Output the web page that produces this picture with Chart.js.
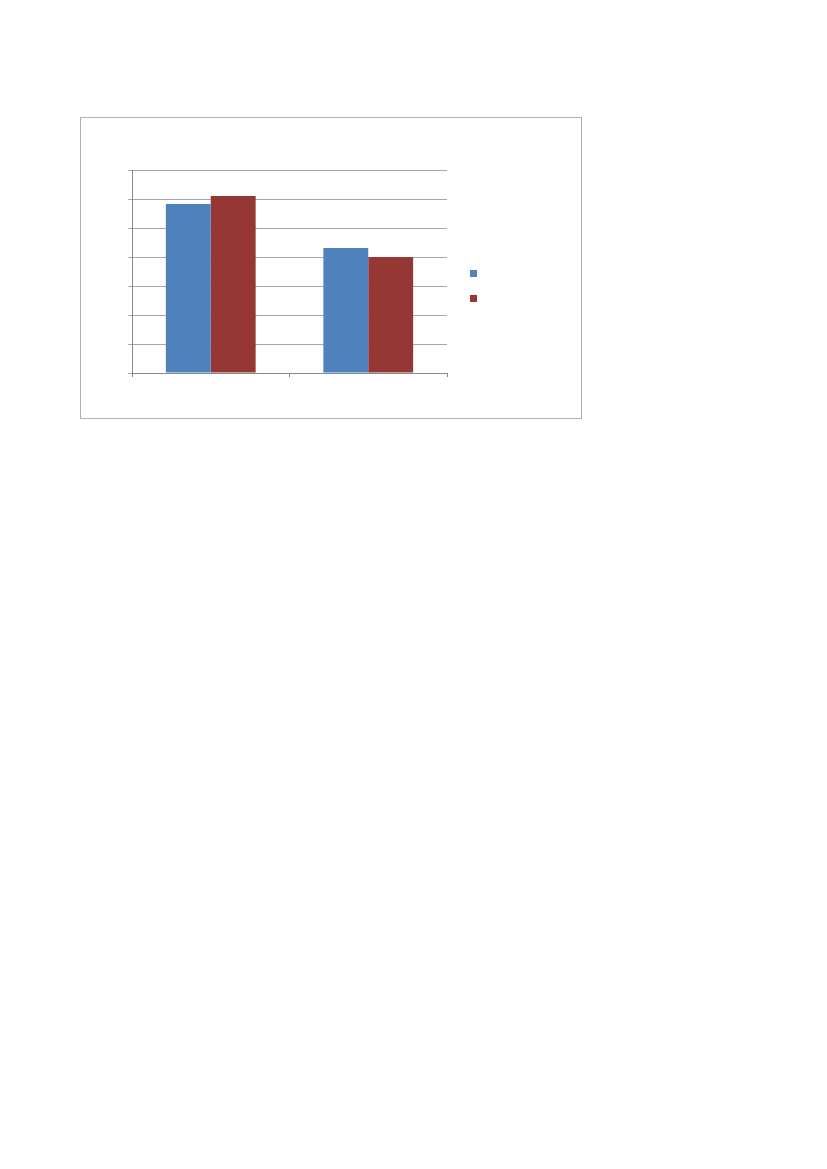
<!DOCTYPE html>
<html>
<head>
<meta charset="utf-8">
<script src="https://cdn.jsdelivr.net/npm/chart.js@4.4.1/dist/chart.umd.min.js"></script>
<style>
  body { margin: 0; background: #fff; }
  #box { position: absolute; left: 80px; top: 117px; width: 500px; height: 300px; border: 1px solid #b0b0b0; }
  #box canvas { position: absolute; left: 0; top: 0; }
  .key { position: absolute; width: 7px; height: 7px; }
</style>
</head>
<body>
<div id="box">
  <canvas id="myChart" width="500" height="300"></canvas>
  <div class="key" id="key0" style="left:389px; top:152px;"></div>
  <div class="key" id="key1" style="left:389px; top:177px;"></div>
</div>
<script>
// the picture shows no text at all, so names stay blank
var categories = ['', ''];
var seriesNames = ['', ''];
var series1 = [5.83, 4.31];
var series2 = [6.1, 4.0];
var seriesColors = ['#4f81bd', '#953735'];
var yMax = 7;

var ctx = document.getElementById('myChart').getContext('2d');

var myChart = new Chart(ctx, {
    type: 'bar',
    data: {
        labels: categories,
        datasets: [{
            label: seriesNames[0],
            data: series1,
            backgroundColor: seriesColors[0],
            borderWidth: 0
        }, {
            label: seriesNames[1],
            data: series2,
            backgroundColor: seriesColors[1],
            borderWidth: 0
        }]
    },
    options: {
        responsive: false,
        animation: false,
        layout: { padding: { left: 47, right: 134, top: 52, bottom: 41 } },
        plugins: {
            legend: { display: false },
            tooltip: { enabled: false }
        },
        datasets: {
            bar: { categoryPercentage: 0.57, barPercentage: 1 }
        },
        scales: {
            x: {
                grid: { offset: true, drawOnChartArea: false, color: '#888', tickLength: 4 },
                border: { color: '#888' },
                ticks: { display: false }
            },
            y: {
                min: 0,
                max: yMax,
                ticks: { stepSize: 1, display: false },
                grid: { color: '#a6a6a6', tickLength: 4 },
                border: { color: '#888' }
            }
        }
    }
});

// legend keys take the series colours
document.getElementById('key0').style.background = seriesColors[0];
document.getElementById('key1').style.background = seriesColors[1];
</script>
</body>
</html>
